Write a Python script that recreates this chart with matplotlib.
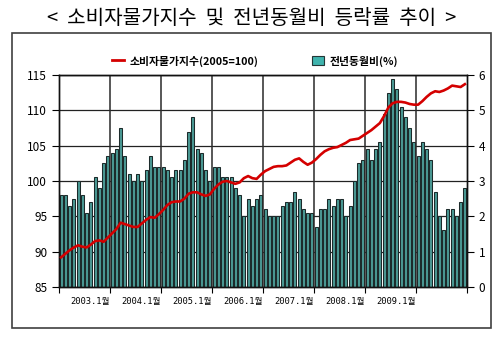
import numpy as np
import matplotlib
matplotlib.use("Agg")
import matplotlib.pyplot as plt
from matplotlib.lines import Line2D
from matplotlib.patches import Patch, Rectangle

plt.rcParams['font.family'] = ['Noto Sans CJK KR', 'DejaVu Sans']

# monthly data 2002.1 ~ 2009.12
years = [2002, 2003, 2004, 2005, 2006, 2007, 2008, 2009]

# consumer price index (2005=100), left axis
cpi = [
    89.2, 89.7, 90.2, 90.6, 90.9, 90.7, 90.6, 91.0, 91.5, 91.6, 91.4, 92.0,
    92.6, 93.2, 94.1, 93.9, 93.7, 93.5, 93.5, 94.0, 94.5, 94.9, 94.8, 95.3,
    95.9, 96.6, 97.0, 97.1, 97.1, 97.5, 98.2, 98.4, 98.4, 98.1, 97.9, 98.1,
    98.9, 99.5, 99.9, 100.0, 99.8, 99.6, 99.8, 100.4, 100.7, 100.4, 100.3, 100.9,
    101.4, 101.7, 102.0, 102.1, 102.1, 102.2, 102.6, 103.0, 103.2, 102.7, 102.3, 102.6,
    103.1, 103.7, 104.2, 104.5, 104.7, 104.8, 105.1, 105.4, 105.8, 105.9, 106.0, 106.4,
    106.8, 107.2, 107.7, 108.2, 109.2, 110.4, 111.0, 111.2, 111.2, 111.1, 110.9, 110.8,
    110.8, 111.3, 111.9, 112.4, 112.7, 112.6, 112.8, 113.1, 113.5, 113.4, 113.3, 113.7,
]

# year-on-year change (%), right axis
yoy = [
    2.6, 2.6, 2.3, 2.5, 3.0, 2.6, 2.1, 2.4, 3.1, 2.8, 3.5, 3.7,
    3.8, 3.9, 4.5, 3.7, 3.2, 3.0, 3.2, 3.0, 3.3, 3.7, 3.4, 3.4,
    3.4, 3.3, 3.1, 3.3, 3.3, 3.6, 4.4, 4.8, 3.9, 3.8, 3.3, 3.0,
    3.4, 3.4, 3.1, 3.1, 3.1, 2.8, 2.6, 2.0, 2.5, 2.3, 2.5, 2.6,
    2.2, 2.0, 2.0, 2.0, 2.3, 2.4, 2.4, 2.7, 2.5, 2.2, 2.1, 2.1,
    1.7, 2.2, 2.2, 2.5, 2.3, 2.5, 2.5, 2.0, 2.3, 3.0, 3.5, 3.6,
    3.9, 3.6, 3.9, 4.1, 4.9, 5.5, 5.9, 5.6, 5.1, 4.8, 4.5, 4.1,
    3.7, 4.1, 3.9, 3.6, 2.7, 2.0, 1.6, 2.2, 2.2, 2.0, 2.4, 2.8,
]

xlabels = ['2003.1월', '2004.1월', '2005.1월', '2006.1월', '2007.1월', '2008.1월', '2009.1월']

fig = plt.figure(figsize=(5, 3.4), dpi=100)

# outer frame
fig.patches.append(Rectangle((12 / 500, 1 - 328 / 340), 479 / 500, 295 / 340,
                             transform=fig.transFigure, fill=False,
                             edgecolor='#404040', linewidth=1.2))

fig.text(0.503, 1 - 18 / 340, '<  소비자물가지수  및  전년동월비  등락률  추이  >',
         ha='center', va='center', fontsize=14.5, weight='medium')

ax = fig.add_axes([59 / 500, 1 - 287 / 340, 408 / 500, 212 / 340])
x = np.arange(len(yoy))

# bars on the base axes so the line axes sits on top
ax.bar(x, yoy, width=0.74, color='#4a9994', edgecolor='#1c2b2b', linewidth=0.75, zorder=2)
ax.set_ylim(0, 6)
ax.set_xlim(-0.5, len(yoy) - 0.5)
ax.set_axisbelow(True)
ax.grid(axis='y', color='#222222', linewidth=0.9)

bounds = [12 * i - 0.5 for i in range(1, len(years))]
for b in bounds:
    ax.axvline(b, color='#2a2a2a', linewidth=1.1, zorder=3)

ax.set_xticks([-0.5] + bounds + [len(yoy) - 0.5])
ax.set_xticklabels([''] + xlabels + [''], family=['DejaVu Sans Mono', 'Noto Sans CJK KR'],
                   fontsize=6.3, ha='right')
ax.tick_params(axis='x', direction='out', length=4, pad=3)

ax2 = ax.twinx()
ax2.plot(x, cpi, color='#d40000', linewidth=1.9, zorder=4)
ax2.set_ylim(85, 115)
ax2.set_yticks(range(85, 116, 5))

# swap sides: percentage on the right, index on the left
ax.yaxis.tick_right()
ax.set_yticks(range(0, 7))
ax2.yaxis.tick_left()
ax.tick_params(axis='y', direction='out', length=5, labelsize=8.5)
ax2.tick_params(axis='y', direction='out', length=5, labelsize=8.5)

for a in (ax, ax2):
    for s in a.spines.values():
        s.set_color('#111111')
        s.set_linewidth(1.0)

handles = [Line2D([0], [0], color='#d40000', linewidth=2),
           Patch(facecolor='#3fb3ad', edgecolor='#243636', linewidth=0.8)]
fig.legend(handles, ['소비자물가지수(2005=100)', '전년동월비(%)'], ncol=2,
           loc='center', bbox_to_anchor=(0.51, 1 - 61 / 340), frameon=False,
           handlelength=1.1, handleheight=0.9, handletextpad=0.5, columnspacing=5.0,
           prop={'weight': 'bold', 'size': 7.8})

fig.savefig('out.png', dpi=100)
